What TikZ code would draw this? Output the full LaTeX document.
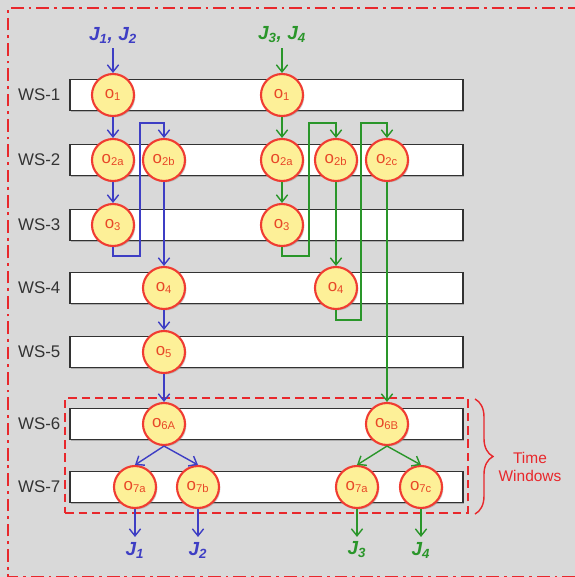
\documentclass[tikz,border=0pt]{standalone}
\usepackage{fontspec}
\setmainfont{Liberation Sans}
\usetikzlibrary{positioning,arrows.meta,shadows,fit,decorations.pathreplacing}

\definecolor{bggrey}{RGB}{217,217,217}
\definecolor{framered}{RGB}{232,40,44}
\definecolor{jblue}{RGB}{62,62,196}
\definecolor{jgreen}{RGB}{42,150,42}
\definecolor{opfill}{RGB}{253,240,152}
\definecolor{opline}{RGB}{240,60,50}
\definecolor{optext}{RGB}{232,72,40}
\definecolor{barline}{RGB}{50,50,50}

\tikzset{
    op/.style={circle, draw=opline, fill=opfill, line width=1.5pt,
    	minimum size=1.05cm, inner sep=0pt, text=optext,
    	font=\fontsize{12}{13}\selectfont,
    	drop shadow={shadow xshift=1pt, shadow yshift=-1pt, opacity=.35}},
    ws/.style={draw=barline, fill=white, line width=1pt, minimum width=9.825cm,
    	minimum height=0.78cm, inner sep=0pt,
    	drop shadow={shadow xshift=1pt, shadow yshift=-1pt, opacity=.5}},
    wstext/.style={text=black!80, font=\fontsize{12}{14}\selectfont},
    job/.style={font=\fontsize{13.5}{15}\selectfont\bfseries\itshape}
}
\tikzset{
    blueflow/.style={draw=jblue, line width=1pt,
    	-{Straight Barb[length=5pt,width=8pt]}},
    greenflow/.style={draw=jgreen, line width=1pt,
    	-{Straight Barb[length=5pt,width=8pt]}},
    frame/.style={draw=framered, line width=1.6pt,
    	dash pattern=on 9pt off 3.5pt on 2pt off 3.5pt}
}

\begin{document}
\begin{tikzpicture}
  \useasboundingbox (0,0) rectangle (14.375,-14.425);
  \fill [bggrey] (0,0) rectangle (14.375,-14.425);
  \draw [frame] (14.375,-14.42) -- (0.2,-14.42) -- (0.2,-0.2) -- (14.375,-0.2);

  % work stations
  \node (ws1) [ws] at (6.6625,-2.375) {};
  \node (ws2) [ws] at (6.6625,-4.0) {};
  \node (ws3) [ws] at (6.6625,-5.625) {};
  \node (ws4) [ws] at (6.6625,-7.2) {};
  \node (ws5) [ws] at (6.6625,-8.8) {};
  \node (ws6) [ws] at (6.6625,-10.6) {};
  \node (ws7) [ws] at (6.6625,-12.175) {};

  \node (l1) [wstext, left=0.1cm of ws1] {WS-1};
  \node (l2) [wstext, left=0.1cm of ws2] {WS-2};
  \node (l3) [wstext, left=0.1cm of ws3] {WS-3};
  \node (l4) [wstext, left=0.1cm of ws4] {WS-4};
  \node (l5) [wstext, left=0.1cm of ws5] {WS-5};
  \node (l6) [wstext, left=0.1cm of ws6] {WS-6};
  \node (l7) [wstext, left=0.1cm of ws7] {WS-7};

  % time windows
  \node (tw) [draw=framered, line width=1.3pt, dash pattern=on 6pt off 3.5pt,
  	fit=(ws6)(ws7), inner xsep=0.1cm, inner ysep=0.24cm] {};
  \coordinate (bt) at (11.875,-9.975);
  \coordinate (bb) at (11.875,-12.85);
  \draw [framered, line width=1pt, decorate,
  	decoration={brace, amplitude=0.45cm}] (bt) -- (bb);
  \node (twtext) [text=framered, align=center, font=\fontsize{11}{13}\selectfont]
  	at (13.25,-11.67) {Time\\Windows};

  % jobs J1, J2
  \node (j12) [job, text=jblue] at (2.825,-0.875) {J\textsubscript{1}, J\textsubscript{2}};
  \node (b1) [op] at (2.825,-2.375) {o\textsubscript{1}};
  \node (b2a) [op] at (2.825,-4.0) {o\textsubscript{2a}};
  \node (b2b) [op] at (4.1,-4.0) {o\textsubscript{2b}};
  \node (b3) [op] at (2.825,-5.625) {o\textsubscript{3}};
  \node (b4) [op] at (4.1,-7.2) {o\textsubscript{4}};
  \node (b5) [op] at (4.1,-8.8) {o\textsubscript{5}};
  \node (b6a) [op] at (4.1,-10.6) {o\textsubscript{6A}};
  \node (b7a) [op] at (3.375,-12.175) {o\textsubscript{7a}};
  \node (b7b) [op] at (4.95,-12.175) {o\textsubscript{7b}};
  \node (j1) [job, text=jblue] at (3.375,-13.75) {J\textsubscript{1}};
  \node (j2) [job, text=jblue] at (4.95,-13.75) {J\textsubscript{2}};

  % jobs J3, J4
  \node (j34) [job, text=jgreen] at (7.05,-0.875) {J\textsubscript{3}, J\textsubscript{4}};
  \node (g1) [op] at (7.05,-2.375) {o\textsubscript{1}};
  \node (g2a) [op] at (7.05,-4.0) {o\textsubscript{2a}};
  \node (g2b) [op] at (8.4,-4.0) {o\textsubscript{2b}};
  \node (g2c) [op] at (9.675,-4.0) {o\textsubscript{2c}};
  \node (g3) [op] at (7.05,-5.625) {o\textsubscript{3}};
  \node (g4) [op] at (8.4,-7.2) {o\textsubscript{4}};
  \node (g6b) [op] at (9.675,-10.6) {o\textsubscript{6B}};
  \node (g7a) [op] at (8.925,-12.175) {o\textsubscript{7a}};
  \node (g7c) [op] at (10.525,-12.175) {o\textsubscript{7c}};
  \node (j3) [job, text=jgreen] at (8.925,-13.75) {J\textsubscript{3}};
  \node (j4) [job, text=jgreen] at (10.525,-13.75) {J\textsubscript{4}};

  \coordinate (bl1) at (3.5,-6.4);
  \coordinate (bl2) at (3.5,-3.075);
  \coordinate (gl1) at (7.725,-6.4);
  \coordinate (gl2) at (7.725,-3.075);
  \coordinate (gl3) at (9.025,-8.0);
  \coordinate (gl4) at (9.025,-3.075);

  \draw [blueflow] (j12) -- (b1);
  \draw [blueflow] (b1) -- (b2a);
  \draw [blueflow] (b2a) -- (b3);
  \draw [blueflow] (b3.south) |- (bl1) -- (bl2) -| (b2b.north);
  \draw [blueflow] (b2b) -- (b4);
  \draw [blueflow] (b4) -- (b5);
  \draw [blueflow] (b5) -- (b6a);
  \draw [blueflow] (b6a.south) -- (b7a.north);
  \draw [blueflow] (b6a.south) -- (b7b.north);
  \draw [blueflow] (b7a) -- (j1);
  \draw [blueflow] (b7b) -- (j2);

  \draw [greenflow] (j34) -- (g1);
  \draw [greenflow] (g1) -- (g2a);
  \draw [greenflow] (g2a) -- (g3);
  \draw [greenflow] (g3.south) |- (gl1) -- (gl2) -| (g2b.north);
  \draw [greenflow] (g2b) -- (g4);
  \draw [greenflow] (g4.south) |- (gl3) -- (gl4) -| (g2c.north);
  \draw [greenflow] (g2c) -- (g6b);
  \draw [greenflow] (g6b.south) -- (g7a.north);
  \draw [greenflow] (g6b.south) -- (g7c.north);
  \draw [greenflow] (g7a) -- (j3);
  \draw [greenflow] (g7c) -- (j4);
\end{tikzpicture}
\end{document}
